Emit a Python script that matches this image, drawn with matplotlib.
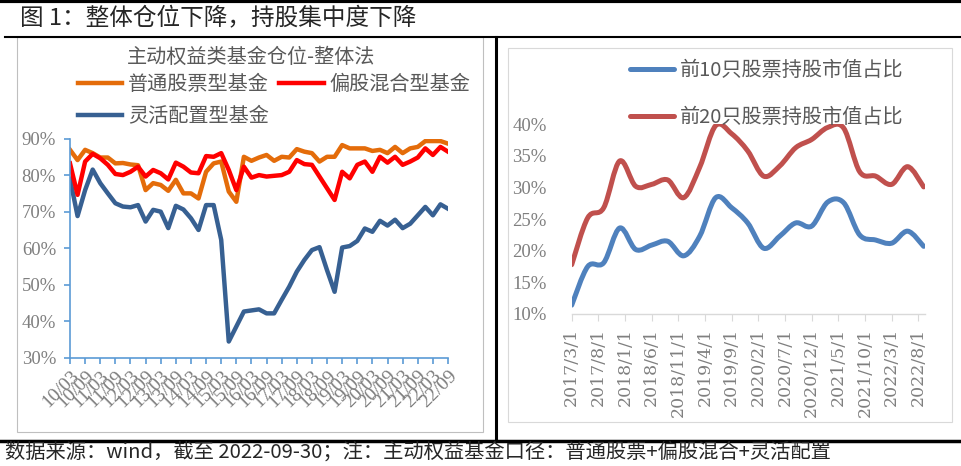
import matplotlib
matplotlib.use('Agg')
import matplotlib.pyplot as plt
import numpy as np
from matplotlib.path import Path
from matplotlib.patches import PathPatch, Rectangle
from matplotlib.lines import Line2D

plt.rcParams['font.family'] = ['Noto Sans CJK SC', 'DejaVu Sans']

# left panel: quarterly position, 2010/03 .. 2022/09
left_ticklabels = ['10/03', '10/09', '11/03', '11/09', '12/03', '12/09', '13/03', '13/09',
                   '14/03', '14/09', '15/03', '15/09', '16/03', '16/09', '17/03', '17/09',
                   '18/03', '18/09', '19/03', '19/09', '20/03', '20/09', '21/03', '21/09',
                   '22/03', '22/09']
stock_fund = [86.9, 84.1, 86.9, 86.0, 84.8, 84.8, 83.2, 83.3, 82.9, 82.7,
              75.9, 77.8, 77.3, 75.7, 78.7, 75.0, 75.0, 73.6, 80.9, 83.2,
              83.7, 75.5, 72.7, 85.0, 83.9, 84.8, 85.5, 83.9, 85.0, 84.8,
              87.1, 86.4, 86.0, 83.7, 85.0, 85.0, 88.2, 87.3, 87.3, 87.3,
              86.6, 86.9, 86.0, 87.7, 86.0, 87.3, 87.7, 89.3, 89.3, 89.3, 88.6]
mixed_fund = [83.2, 74.6, 83.7, 85.8, 84.6, 82.8, 80.3, 80.0, 80.9, 82.3,
              79.6, 81.4, 80.5, 78.8, 83.4, 82.3, 80.7, 80.5, 85.2, 85.0,
              86.0, 81.4, 75.9, 82.3, 79.3, 80.0, 79.6, 79.8, 80.0, 80.9,
              84.1, 83.0, 82.8, 79.6, 76.4, 73.2, 80.9, 79.1, 82.8, 83.7,
              80.9, 85.0, 83.4, 85.0, 82.8, 83.7, 84.8, 87.3, 85.5, 87.7, 86.4]
flex_fund = [79.0, 68.8, 75.9, 81.5, 77.8, 75.0, 72.3, 71.4, 71.2, 71.8,
             67.3, 70.5, 70.0, 65.5, 71.6, 70.6, 68.2, 65.0, 71.8, 71.8,
             62.3, 34.5, 38.6, 42.7, 43.0, 43.3, 42.2, 42.2, 45.9, 49.5,
             53.6, 56.8, 59.5, 60.3, 54.0, 48.1, 60.2, 60.6, 62.0, 65.4,
             64.5, 67.5, 66.2, 67.8, 65.5, 66.7, 69.0, 71.3, 69.0, 72.0, 70.8]

# right panel: quarterly concentration, 2017/03 .. 2022/09
right_dates = ['2017/3', '2017/6', '2017/9', '2017/12', '2018/3', '2018/6', '2018/9', '2018/12',
               '2019/3', '2019/6', '2019/9', '2019/12', '2020/3', '2020/6', '2020/9', '2020/12',
               '2021/3', '2021/6', '2021/9', '2021/12', '2022/3', '2022/6', '2022/9']
top10 = [11.4, 17.5, 18.1, 23.6, 20.2, 20.9, 21.5, 19.2, 22.3, 28.4, 26.8, 24.4,
         20.4, 22.3, 24.4, 23.9, 27.7, 27.6, 22.5, 21.7, 21.2, 23.1, 20.7]
top20 = [17.8, 25.2, 26.8, 34.2, 30.2, 30.5, 31.2, 28.4, 33.2, 39.8, 38.5, 35.8,
         31.8, 33.4, 36.3, 37.6, 39.5, 39.4, 32.5, 31.8, 30.5, 33.3, 30.1]
right_ticklabels = ['2017/3/1', '2017/8/1', '2018/1/1', '2018/6/1', '2018/11/1', '2019/4/1',
                    '2019/9/1', '2020/2/1', '2020/7/1', '2020/12/1', '2021/5/1', '2021/10/1',
                    '2022/3/1', '2022/8/1']

W, H = 961, 466
fig = plt.figure(figsize=(W / 100, H / 100), dpi=100)


def px_axes(x0, y0, x1, y1):
    return fig.add_axes([x0 / W, 1 - y1 / H, (x1 - x0) / W, (y1 - y0) / H])


def smooth_line(ax, x, y, color, lw):
    # excel-like smoothed line: cubic bezier through every point
    p = np.column_stack([x, y]).astype(float)
    n = len(p)
    verts = [p[0]]
    codes = [Path.MOVETO]
    for i in range(n - 1):
        p0 = p[max(i - 1, 0)]
        p3 = p[min(i + 2, n - 1)]
        c1 = p[i] + (p[i + 1] - p0) / 6
        c2 = p[i + 1] - (p3 - p[i]) / 6
        verts += [c1, c2, p[i + 1]]
        codes += [Path.CURVE4] * 3
    ax.add_patch(PathPatch(Path(verts, codes), facecolor='none', edgecolor=color,
                           lw=lw, capstyle='round', joinstyle='round'))


def fig_line(xs, ys, lw, color='black'):
    fig.add_artist(Line2D([x / W for x in xs], [1 - y / H for y in ys], lw=lw,
                          color=color, transform=fig.transFigure))


# frame lines
fig_line([0, W], [1, 1], 3)
fig_line([5, W], [37, 37], 1.5)
fig_line([496, 496], [37, 441], 2.2)
fig_line([0, W], [441, 441], 2.5)
fig.add_artist(Rectangle((17 / W, 1 - 432 / H), (483 - 17) / W, (432 - 37) / H,
                         transform=fig.transFigure, fill=False, ec='#bfbfbf', lw=0.8))
fig.add_artist(Rectangle((508 / W, 1 - 422 / H), (952 - 508) / W, (422 - 48) / H,
                         transform=fig.transFigure, fill=False, ec='#d9d9d9', lw=0.8))

fig.text(20 / W, 1 - 19 / H, '图 1：整体仓位下降，持股集中度下降', fontsize=17,
         color='#262626', va='center', ha='left')
fig.text(5 / W, 1 - 452 / H,
         '数据来源：wind，截至 2022-09-30；注：主动权益基金口径：普通股票+偏股混合+灵活配置',
         fontsize=14.6, color='#262626', va='center', ha='left')

serif = 'Liberation Serif'
gray = '#7f7f7f'

# ---- left chart
ax1 = px_axes(70, 138.5, 448, 358)
xq = np.arange(len(stock_fund))
ax1.plot(xq, stock_fund, color='#e46c0a', lw=3.2, label='普通股票型基金', solid_joinstyle='round')
ax1.plot(xq, flex_fund, color='#376092', lw=3.2, label='灵活配置型基金', solid_joinstyle='round')
ax1.plot(xq, mixed_fund, color='#ff0000', lw=3.2, label='偏股混合型基金', solid_joinstyle='round')
ax1.set_xlim(0, len(stock_fund) - 1)
ax1.set_ylim(30, 90)
ax1.set_yticks(range(30, 91, 10))
ax1.set_yticklabels(['%d%%' % v for v in range(30, 91, 10)], fontfamily=serif,
                    fontsize=13.5, color=gray)
ax1.set_xticks(np.arange(0, len(stock_fund), 2))
ax1.set_xticklabels(left_ticklabels, rotation=45, ha='right', va='top',
                    rotation_mode='anchor', fontfamily=serif, fontsize=14, color=gray)
for s in ['top', 'right']:
    ax1.spines[s].set_visible(False)
for s in ['left', 'bottom']:
    ax1.spines[s].set_color('#5b9bd5')
    ax1.spines[s].set_linewidth(1.2)
ax1.tick_params(axis='both', color='#5b9bd5', width=1.2, length=4, direction='out')
ax1.tick_params(axis='x', pad=3)
ax1.tick_params(axis='y', pad=6)
ax1.patch.set_alpha(0)

fig.text(251 / W, 1 - 57 / H, '主动权益类基金仓位-整体法', fontsize=14.5, color='#595959',
         ha='center', va='center')
leg1 = ax1.legend(ncol=2, loc='upper left', bbox_to_anchor=(78 / W, 1 - 74 / H),
                  bbox_transform=fig.transFigure, frameon=False, fontsize=14.5,
                  handlelength=2.2, handletextpad=0.3, columnspacing=0.5,
                  labelspacing=0.55, borderpad=0, borderaxespad=0)
for t in leg1.get_texts():
    t.set_color('#595959')

# ---- right chart
months = [(int(d.split('/')[0]) - 2017) * 12 + int(d.split('/')[1]) - 3 for d in right_dates]
ax2 = px_axes(571.7, 124.3, 925, 314)
smooth_line(ax2, months, top10, '#4f81bd', 3.6)
smooth_line(ax2, months, top20, '#c0504d', 3.6)
ax2.set_xlim(0, 66.25)
ax2.set_ylim(10, 40)
ax2.set_yticks(range(10, 41, 5))
ax2.set_yticklabels(['%d%%' % v for v in range(10, 41, 5)], fontfamily=serif,
                    fontsize=13.5, color=gray)
ax2.set_xticks(np.arange(0, 66, 5))
ax2.set_xticklabels(right_ticklabels, rotation=90, ha='center', va='top',
                    fontfamily='DejaVu Serif', fontsize=12.5, color=gray)
for s in ['top', 'right', 'left']:
    ax2.spines[s].set_visible(False)
ax2.spines['bottom'].set_color('#d9d9d9')
ax2.spines['bottom'].set_linewidth(1)
ax2.tick_params(axis='y', length=0, pad=18)
ax2.tick_params(axis='x', color='#d9d9d9', length=5, pad=5)
ax2.patch.set_alpha(0)

handles = [Line2D([], [], color='#4f81bd', lw=3.6, solid_capstyle='round'),
           Line2D([], [], color='#c0504d', lw=3.6, solid_capstyle='round')]
leg2 = ax2.legend(handles, ['前10只股票持股市值占比', '前20只股票持股市值占比'],
                  loc='upper left', bbox_to_anchor=(630 / W, 1 - 60 / H),
                  bbox_transform=fig.transFigure, frameon=False, fontsize=14.5,
                  handlelength=2.2, handletextpad=0.3, labelspacing=1.3,
                  borderpad=0, borderaxespad=0)
for t in leg2.get_texts():
    t.set_color('#595959')

fig.savefig('out.png', dpi=100)
